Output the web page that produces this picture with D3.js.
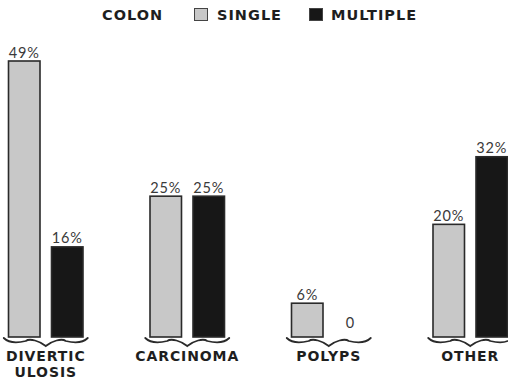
<!DOCTYPE html>
<html>
<head>
<meta charset="utf-8">
<script src="https://cdn.jsdelivr.net/npm/d3@7/dist/d3.min.js"></script>
<style>
  html, body { margin: 0; padding: 0; background: #fff; }
  svg { display: block; }
</style>
</head>
<body>
<svg id="chart" width="508" height="381"></svg>
<script>
// Colon lesion sites: single vs multiple
const categories = ["DIVERTIC|ULOSIS", "CARCINOMA", "POLYPS", "OTHER"];
const series = ["SINGLE", "MULTIPLE"];
const singleValues = [49, 25, 6, 20];
const multipleValues = [16, 25, 0, 32];
const legendTitle = "COLON";

const baseline = 337, plotTop = 61;
const svg = d3.select("#chart");

const colors = { SINGLE: "#c8c8c8", MULTIPLE: "#171717" };
const valuesBySeries = { SINGLE: singleValues, MULTIPLE: multipleValues };

const x0 = d3.scaleBand().domain(categories).range([-25, 541]).paddingInner(0).paddingOuter(0);
const groupW = 76;
const x1 = d3.scaleBand().domain(series).range([0, groupW]).paddingInner(10 / 43);
const y = d3.scaleLinear().domain([0, d3.max(singleValues.concat(multipleValues))]).range([baseline, plotTop]);

const rows = categories.map((c, i) => ({
  cat: c,
  bars: series.map(s => ({ s, v: valuesBySeries[s][i] }))
}));

const headFont = "'DejaVu Sans', 'Liberation Sans', sans-serif";
const valFont = "Lato, 'Open Sans', sans-serif";

// legend
const legend = svg.append("g").attr("font-family", headFont).attr("font-weight", "bold")
  .attr("font-size", 14.5).attr("fill", "#1e1e1e").attr("letter-spacing", 1);
legend.append("text").attr("x", 102).attr("y", 19.5).text(legendTitle);
const legendPos = [{ s: "SINGLE", bx: 194.5, tx: 217 }, { s: "MULTIPLE", bx: 309.5, tx: 331 }];
legendPos.forEach(p => {
  legend.append("rect").attr("x", p.bx).attr("y", 8.5).attr("width", 13).attr("height", 12)
    .attr("fill", colors[p.s]).attr("stroke", "#444").attr("stroke-width", 1);
  legend.append("text").attr("x", p.tx).attr("y", 19.5).text(p.s);
});

const groups = svg.selectAll("g.grp").data(rows).join("g").attr("class", "grp")
  .attr("transform", d => `translate(${x0(d.cat) + x0.bandwidth() / 2 - groupW / 2},0)`);

// bars
groups.selectAll("rect.bar").data(d => d.bars.filter(b => b.v > 0)).join("rect").attr("class", "bar")
  .attr("x", d => x1(d.s) + 0.75)
  .attr("y", d => y(d.v))
  .attr("width", x1.bandwidth() - 1.5)
  .attr("height", d => baseline - y(d.v))
  .attr("fill", d => colors[d.s])
  .attr("stroke", "#2a2a2a").attr("stroke-width", 1.6);

// value labels
groups.selectAll("text.val").data(d => d.bars).join("text").attr("class", "val")
  .attr("x", d => x1(d.s) + x1.bandwidth() / 2)
  .attr("y", d => y(d.v) - (d.v > 0 ? 3.5 : 9))
  .attr("text-anchor", "middle")
  .attr("font-family", valFont).attr("font-size", 14.5).attr("fill", "#3a3a3a")
  .attr("letter-spacing", 0.8)
  .text(d => d.v > 0 ? d.v + "%" : "0");

// curly braces under each pair
const bL = -4, bR = groupW + 4, mid = groupW / 2, b0 = baseline + 1;
const brace = `M${bL},${b0} C${bL + 6},${b0 + 6} ${bL + 14},${b0 + 5} ${bL + 22},${b0 + 3}
  C${mid - 16},${b0} ${mid - 6},${b0 + 3} ${mid},${b0 + 8}
  C${mid + 6},${b0 + 3} ${mid + 16},${b0} ${bR - 22},${b0 + 3}
  C${bR - 14},${b0 + 5} ${bR - 6},${b0 + 6} ${bR},${b0}`;
groups.append("path").attr("d", brace).attr("fill", "none")
  .attr("stroke", "#2a2a2a").attr("stroke-width", 1.8).attr("stroke-linecap", "round");

// category labels
groups.each(function (d) {
  const lines = d.cat.split("|");
  const t = d3.select(this).append("text")
    .attr("text-anchor", "middle")
    .attr("font-family", headFont).attr("font-weight", "bold")
    .attr("font-size", 14).attr("fill", "#1e1e1e").attr("letter-spacing", 0.9);
  lines.forEach((ln, i) => {
    t.append("tspan").attr("x", mid).attr("y", 361 + i * 16).text(ln);
  });
});
</script>
</body>
</html>
